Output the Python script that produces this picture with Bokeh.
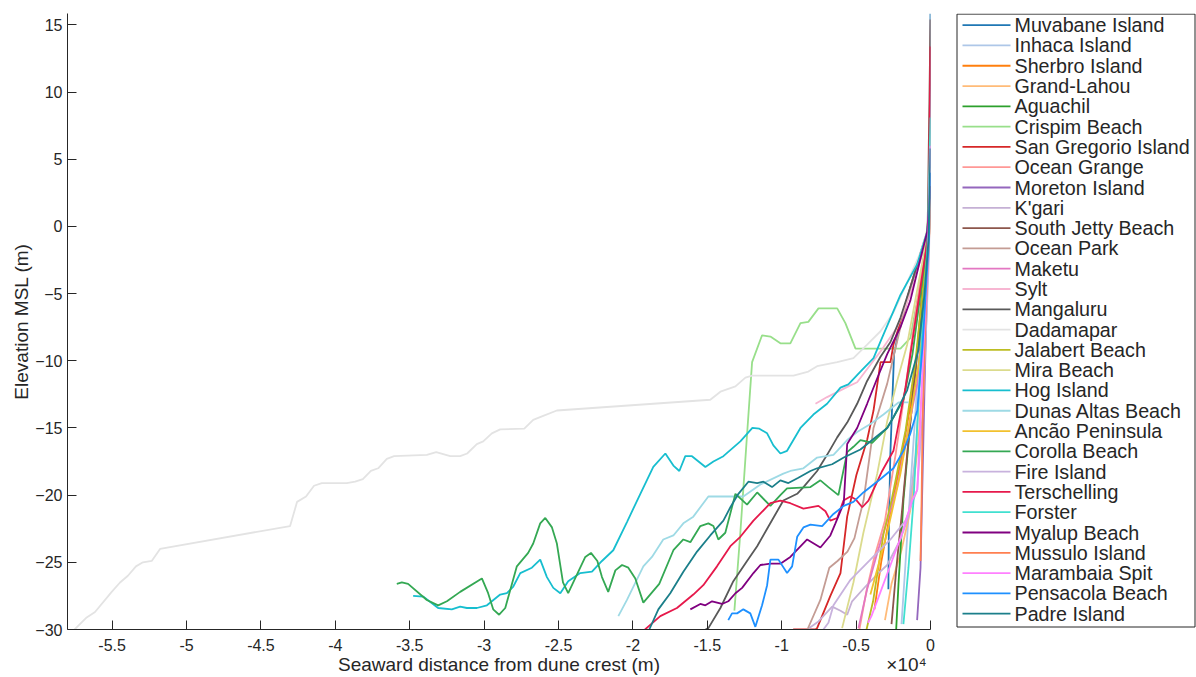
from bokeh.plotting import figure
from bokeh.models import Range1d, FixedTicker, LinearAxis, ColumnDataSource
from bokeh.core.properties import value
from bokeh.layouts import row
from bokeh.embed import file_html
from bokeh.resources import INLINE

# ---------------- data: (seaward distance m, elevation m) ----------------
NAMES = ["Muvabane Island", "Inhaca Island", "Sherbro Island", "Grand-Lahou", "Aguachil",
         "Crispim Beach", "San Gregorio Island", "Ocean Grange", "Moreton Island", "K'gari",
         "South Jetty Beach", "Ocean Park", "Maketu", "Sylt", "Mangaluru", "Dadamapar",
         "Jalabert Beach", "Mira Beach", "Hog Island", "Dunas Altas Beach", "Ancão Peninsula",
         "Corolla Beach", "Fire Island", "Terschelling", "Forster", "Myalup Beach",
         "Mussulo Island", "Marambaia Spit", "Pensacola Beach", "Padre Island"]

COLORS = ["#1f77b4", "#aec7e8", "#ff7f0e", "#ffbb78", "#2ca02c", "#98df8a", "#d62728", "#ff9896",
          "#9467bd", "#c5b0d5", "#8c564b", "#c49c94", "#e377c2", "#f7b6d2", "#595959", "#e3e3e3",
          "#bcbd22", "#dbdb8d", "#17becf", "#9edae5", "#f2c12e", "#34a853", "#c8b2dd", "#e6194b",
          "#40e0d0", "#800080", "#ff7f50", "#ff80ff", "#1e90ff", "#1b7f8a"]

MUVABANE = [(-2830, -27.0), (-2800, -22.5), (-2700, -17.0), (-2550, -12.5), (-2450, -9.5),
            (-1900, -6.5), (-1100, -4.0), (-450, -1.5), (-80, -0.2), (0, 15.85)]
INHACA = [(-1950, -29.6), (-1700, -25.4), (-1480, -21.6), (-1080, -15.0), (-670, -8.0),
          (-340, -3.0), (-100, -0.5), (0, 3.0)]
SHERBRO = [(-3770, -28.5), (-3300, -24.9), (-2720, -21.4), (-2000, -17.5), (-1300, -13.0),
           (-700, -7.5), (-300, -3.0), (-80, -0.5), (0, 2.0)]
GRAND_LAHOU = [(-3060, -29.3), (-2620, -26.6), (-1950, -24.1), (-1350, -21.1), (-810, -16.0),
               (-400, -9.0), (-140, -2.0), (0, 2.5)]
AGUACHIL = [(-2320, -30.3), (-2150, -26.6), (-1950, -22.9), (-1820, -20.4), (-1350, -14.5),
            (-810, -8.5), (-400, -3.5), (-140, -0.5), (0, 2.0)]
CRISPIM = [(-13180, -28.6), (-12780, -22.8), (-12330, -15.5), (-11990, -10.1), (-11320, -8.1),
           (-10760, -8.2), (-10090, -8.7), (-9420, -8.7), (-8740, -7.2), (-8210, -7.1),
           (-7530, -6.1), (-6270, -6.1), (-5720, -7.2), (-5040, -9.1), (-2020, -9.1),
           (-1350, -8.3), (-810, -5.0), (-340, -1.5), (0, 2.5)]
SAN_GREGORIO = [(-9300, -30.5), (-9210, -30.0), (-7730, -30.0), (-7620, -29.9), (-6730, -27.5),
                (-6050, -25.8), (-5600, -21.6), (-4980, -18.5), (-4260, -15.9), (-3830, -13.7),
                (-3360, -10.1), (-2690, -10.1), (-2490, -8.8), (-2020, -7.1), (-1350, -4.5),
                (-670, -2.0), (-200, -0.3), (0, 3.0)]
OCEAN_GRANGE = [(-4780, -30.0), (-4300, -27.1), (-3770, -24.6), (-3060, -21.9), (-2350, -17.0),
                (-1680, -12.0), (-1010, -6.5), (-470, -2.5), (-140, -0.3), (0, 2.0)]
MORETON = [(-900, -29.3), (-670, -25.4), (-570, -20.4), (-400, -12.0), (-240, -5.0),
           (-100, -1.0), (0, 4.0)]
KGARI = [(-8290, -30.0), (-7530, -29.4), (-6610, -28.3), (-6050, -28.6), (-5600, -28.9),
         (-5270, -27.9), (-4370, -26.8), (-3580, -25.9), (-2910, -25.2), (-2020, -23.3),
         (-1480, -21.6), (-1010, -17.0), (-670, -11.0), (-340, -5.0), (-140, -1.0), (0, 2.0)]
SOUTH_JETTY = [(-2620, -29.6), (-2290, -25.4), (-1950, -21.6), (-1550, -16.7), (-1010, -10.8),
               (-540, -4.5), (-200, -0.8), (0, 15.4)]
OCEAN_PARK = [(-8270, -30.0), (-7400, -27.8), (-6800, -25.4), (-6250, -24.9), (-5580, -24.2),
              (-5110, -23.2), (-4770, -21.6), (-4500, -20.4), (-3830, -15.0), (-2910, -11.7),
              (-2020, -7.5), (-1210, -4.0), (-540, -1.5), (-135, -0.2), (0, 2.0)]
MAKETU = [(-4840, -29.9), (-4260, -27.0), (-3580, -24.3), (-2910, -21.9), (-2240, -19.4),
          (-1570, -15.5), (-890, -11.7), (-470, -6.0), (-170, -1.5), (0, 3.0)]
SYLT = [(-7730, -13.2), (-6950, -12.7), (-6050, -12.2), (-5520, -11.9), (-4930, -11.6),
        (-4040, -10.3), (-3360, -9.3), (-2240, -7.5), (-1350, -5.0), (-670, -2.5),
        (-200, -0.5), (0, 2.0)]
MANGALURU = [(-15600, -30.3), (-14930, -29.9), (-14120, -28.4), (-13250, -26.4), (-12330, -24.9),
             (-11650, -23.8), (-10980, -22.5), (-9890, -20.4), (-8960, -19.9), (-8540, -19.4),
             (-7620, -18.2), (-6950, -17.0), (-6270, -15.7), (-5600, -14.6), (-4930, -13.2),
             (-4260, -11.5), (-3360, -9.7), (-2690, -8.6), (-2020, -6.8), (-1210, -4.0),
             (-540, -1.5), (-135, -0.2), (0, 2.0)]
DADAMAPAR = [(-57800, -30.3), (-56710, -29.1), (-56150, -28.7), (-55030, -27.2), (-54470, -26.5),
             (-53940, -26.0), (-53400, -25.3), (-52930, -25.0), (-52340, -24.9), (-51780, -24.0),
             (-43040, -22.3), (-42570, -20.5), (-41970, -20.1), (-41430, -19.3), (-40910, -19.1),
             (-39230, -19.1), (-38670, -19.0), (-38150, -18.8), (-37610, -18.2), (-37120, -18.0),
             (-36540, -17.3), (-36050, -17.1), (-33850, -17.0), (-33220, -16.8), (-32280, -17.1),
             (-31610, -17.1), (-31140, -16.9), (-30490, -16.2), (-30060, -16.0), (-29480, -15.4),
             (-28920, -15.1), (-27300, -15.05), (-26700, -14.4), (-26030, -14.1), (-25110, -13.7),
             (-14800, -12.9), (-14120, -12.3), (-13110, -11.9), (-12440, -11.25), (-11990, -11.1),
             (-9210, -11.1), (-8210, -10.8), (-7620, -10.4), (-6270, -10.1), (-5180, -9.8),
             (-4260, -8.8), (-3360, -7.8), (-2490, -6.4), (-1500, -4.0), (-700, -2.0),
             (-250, -0.4), (0, 1.5)]
JALABERT = [(-4300, -30.0), (-3860, -27.9), (-3160, -22.9), (-2620, -20.4), (-1680, -15.2),
            (-1010, -10.0), (-540, -5.0), (-200, -1.0), (0, 2.0)]
MIRA = [(-5940, -29.9), (-5180, -26.5), (-4510, -22.8), (-3580, -18.4), (-2910, -14.5),
        (-2240, -11.5), (-1570, -8.8), (-940, -5.0), (-400, -1.8), (0, 2.0)]
HOG = [(-34770, -27.5), (-34100, -27.55), (-33090, -28.4), (-32170, -28.5), (-31610, -28.3),
       (-31160, -28.4), (-30490, -28.4), (-29810, -28.2), (-28920, -27.4), (-28470, -27.3),
       (-28040, -26.8), (-27570, -25.8), (-26790, -25.4), (-26230, -24.8), (-25780, -26.1),
       (-25350, -26.9), (-24880, -27.3), (-24350, -26.4), (-23540, -25.8), (-22750, -25.7),
       (-22080, -24.9), (-21320, -24.1), (-20400, -22.0), (-19500, -19.9), (-18630, -17.9),
       (-17820, -16.9), (-17280, -17.8), (-16880, -18.2), (-16480, -17.1), (-16030, -17.1),
       (-15130, -17.9), (-14590, -17.5), (-13920, -17.1), (-12780, -16.0), (-11970, -15.0),
       (-11500, -15.05), (-10980, -15.4), (-10560, -16.3), (-10090, -16.9), (-9640, -16.7),
       (-8740, -15.0), (-7870, -14.0), (-6950, -13.2), (-6050, -12.0), (-5520, -11.75),
       (-4710, -10.8), (-3830, -9.8), (-3300, -8.4), (-2020, -5.1), (-890, -2.8),
       (-220, -0.4), (0, 2.5)]
DUNAS_ALTAS = [(-20980, -29.0), (-20400, -27.8), (-19300, -25.3), (-18720, -24.6), (-17960, -23.3),
               (-17280, -23.0), (-16610, -22.1), (-15940, -21.6), (-14930, -20.1), (-12580, -20.1),
               (-11430, -19.2), (-9890, -18.4), (-9420, -18.2), (-8540, -18.0), (-7620, -17.2),
               (-6520, -17.0), (-5600, -15.9), (-4930, -15.3), (-4040, -14.7), (-3160, -14.0),
               (-2490, -13.4), (-2150, -13.1), (-1480, -13.1)]
ANCAO = [(-4040, -27.4), (-2910, -22.8), (-2020, -18.4), (-1350, -14.2), (-670, -9.3),
         (-340, -4.5), (-100, -1.0), (0, 2.0)]
COROLLA = [(-35870, -26.6), (-35530, -26.5), (-35110, -26.6), (-33850, -27.8), (-33090, -28.2),
           (-32500, -27.9), (-31610, -27.2), (-30150, -26.2), (-29730, -27.3), (-29390, -28.5),
           (-28990, -28.9), (-28580, -28.4), (-27800, -25.3), (-27040, -24.3), (-26700, -23.6),
           (-26230, -22.1), (-25890, -21.7), (-25440, -22.4), (-25110, -23.6), (-24700, -26.5),
           (-24350, -27.3), (-23200, -24.6), (-22820, -24.3), (-22390, -24.9), (-22080, -26.1),
           (-21660, -27.2), (-21180, -25.6), (-20730, -25.2), (-20310, -25.4), (-19840, -26.2),
           (-19300, -28.0), (-18230, -26.6), (-17280, -24.1), (-16610, -23.3), (-16140, -23.5),
           (-15470, -22.3), (-14930, -22.1), (-14590, -22.3), (-14260, -23.3), (-13790, -22.8),
           (-13110, -19.9), (-12330, -20.7), (-11650, -19.8), (-10760, -20.8), (-10090, -20.0),
           (-9640, -19.5), (-8070, -19.4), (-7400, -18.9), (-6860, -19.4), (-6190, -20.0),
           (-5600, -16.8), (-5180, -16.4), (-4710, -15.9), (-3920, -16.1), (-2910, -15.0),
           (-2490, -14.2), (-1820, -12.9), (-1210, -9.5), (-670, -5.0), (-270, -1.5), (0, 3.0)]
FIRE = [(-7200, -30.0), (-6860, -29.5), (-6520, -28.2), (-5380, -26.3), (-4040, -24.8),
        (-2690, -23.3), (-1680, -21.9), (-890, -19.6), (-540, -14.0), (-270, -7.0),
        (-100, -2.0), (0, 2.0)]
TERSCHELLING = [(-19500, -30.3), (-18160, -29.0), (-17040, -28.4), (-15940, -27.4), (-15270, -26.7),
                (-14350, -25.3), (-13450, -23.8), (-12780, -23.1), (-11900, -21.9), (-10760, -20.6),
                (-10090, -20.4), (-9420, -20.6), (-8540, -21.0), (-7530, -20.8), (-7060, -21.2),
                (-6730, -21.9), (-6270, -21.7), (-5850, -20.4), (-5380, -20.1), (-5040, -20.3),
                (-4590, -20.9), (-4170, -20.4), (-3250, -18.2), (-2490, -16.7), (-1680, -12.0),
                (-1010, -7.0), (-400, -2.5), (-135, -0.5), (0, 13.4)]
FORSTER = [(-1820, -29.6), (-1480, -25.4), (-1140, -20.4), (-810, -13.0), (-470, -6.0),
           (-200, -1.5), (0, 8.1)]
MYALUP = [(-16140, -28.5), (-15470, -28.1), (-15130, -28.2), (-14680, -27.9), (-14010, -28.1),
          (-13590, -27.9), (-13110, -27.3), (-12660, -26.9), (-11900, -25.8), (-11430, -25.2),
          (-10760, -25.1), (-10090, -25.1), (-9420, -24.6), (-8290, -23.3), (-7400, -23.9),
          (-6730, -23.0), (-6390, -22.1), (-5830, -20.6), (-5600, -16.2), (-4930, -15.0),
          (-4260, -13.2), (-3580, -11.3), (-2910, -9.5), (-2020, -7.5), (-1350, -5.5),
          (-810, -3.0), (-220, -0.4), (0, 3.0)]
MUSSULO = [(-670, -24.9), (-600, -20.4), (-540, -15.0), (-370, -8.0), (-200, -3.0),
           (-70, -0.5), (0, 3.0)]
MARAMBAIA = [(-4200, -29.5), (-3970, -29.0), (-3360, -27.2), (-2690, -25.2), (-2020, -23.2),
             (-1240, -20.4), (-890, -19.6), (-740, -16.0), (-470, -9.0), (-200, -3.0), (0, 6.0)]
PENSACOLA = [(-13590, -29.3), (-13340, -28.8), (-13000, -28.8), (-12580, -28.5), (-12110, -28.8),
             (-11770, -29.8), (-11320, -28.2), (-10980, -26.7), (-10760, -24.8), (-10220, -24.8),
             (-9640, -25.8), (-9300, -25.3), (-8960, -23.1), (-8540, -22.4), (-8070, -22.2),
             (-7280, -22.3), (-6520, -21.4), (-5830, -20.8), (-5180, -20.5), (-4510, -19.8),
             (-3360, -18.8), (-2490, -18.0), (-1820, -16.7), (-1350, -15.4), (-890, -13.7),
             (-540, -9.0), (-270, -4.0), (-100, -1.0), (0, 4.0)]
PADRE = [(-19100, -30.3), (-18900, -30.0), (-18290, -28.5), (-17490, -27.3), (-16610, -25.7),
         (-15690, -24.2), (-14800, -23.0), (-13920, -21.9), (-13450, -20.9), (-12910, -19.9),
         (-12240, -19.0), (-11650, -19.1), (-11230, -19.0), (-10650, -19.4), (-10090, -18.9),
         (-9550, -19.1), (-8880, -18.7), (-8070, -18.2), (-7620, -18.0), (-6610, -17.7),
         (-5830, -17.2), (-4710, -16.6), (-3920, -15.9), (-2910, -15.0), (-2490, -14.2),
         (-1570, -12.2), (-810, -9.2), (-400, -5.0), (-135, -1.0), (0, 5.8)]

SERIES = [MUVABANE, INHACA, SHERBRO, GRAND_LAHOU, AGUACHIL, CRISPIM, SAN_GREGORIO, OCEAN_GRANGE,
          MORETON, KGARI, SOUTH_JETTY, OCEAN_PARK, MAKETU, SYLT, MANGALURU, DADAMAPAR, JALABERT,
          MIRA, HOG, DUNAS_ALTAS, ANCAO, COROLLA, FIRE, TERSCHELLING, FORSTER, MYALUP, MUSSULO,
          MARAMBAIA, PENSACOLA, PADRE]

X_TICKS = [-55000, -50000, -45000, -40000, -35000, -30000, -25000, -20000, -15000, -10000, -5000, 0]
X_TICK_LABELS = ["-5.5", "-5", "-4.5", "-4", "-3.5", "-3", "-2.5", "-2", "-1.5", "-1", "-0.5", "0"]
Y_TICKS = [-30, -25, -20, -15, -10, -5, 0, 5, 10, 15]
X_LABEL = "Seaward distance from dune crest (m)"
X_EXPONENT = "×10⁴"
Y_LABEL = "Elevation MSL (m)"

FONT = "Liberation Sans"
TXT = "#262626"
LW = 1.8
TOP_B, BOT_B = 13, 46

# ---------------- main plot ----------------
p = figure(width=935, height=677, x_range=Range1d(-58000, 0), y_range=Range1d(-30, 15.85),
           output_backend="svg", toolbar_location=None,
           min_border_left=67, min_border_right=5, min_border_top=TOP_B, min_border_bottom=BOT_B)
p.outline_line_color = None
p.grid.visible = False
p.background_fill_color = "white"
p.border_fill_color = "white"

for pts, col in zip(SERIES, COLORS):
    p.line([a for a, b in pts], [b for a, b in pts], line_color=col, line_width=LW)

p.xaxis.ticker = FixedTicker(ticks=X_TICKS)
p.xaxis.major_label_overrides = {t: l for t, l in zip(X_TICKS, X_TICK_LABELS)}
p.yaxis.ticker = FixedTicker(ticks=Y_TICKS)
for ax in (p.xaxis, p.yaxis):
    ax.axis_line_color = TXT
    ax.axis_line_width = 1
    ax.major_tick_line_color = TXT
    ax.major_tick_in = 9
    ax.major_tick_out = 0
    ax.minor_tick_line_color = None
    ax.major_label_text_font = FONT
    ax.major_label_text_font_size = "16px"
    ax.major_label_text_color = TXT
    ax.major_label_text_line_height = 1.0
    ax.axis_label_text_font = FONT
    ax.axis_label_text_font_size = "19px"
    ax.axis_label_text_font_style = "normal"
    ax.axis_label_text_color = TXT
p.yaxis.axis_label = Y_LABEL
p.yaxis.major_label_standoff = 5
p.yaxis.axis_label_standoff = 0
p.xaxis.major_label_standoff = 9

# second (label-only) axis below: axis title centred and the x10^4 exponent at the right
xl_center = (p.x_range.start + p.x_range.end) / 2
xl_exp = -1610
ax2 = LinearAxis(ticker=FixedTicker(ticks=[xl_center, xl_exp]),
                 major_label_overrides={xl_center: X_LABEL, xl_exp: X_EXPONENT},
                 axis_line_color=None, major_tick_line_color=None, minor_tick_line_color=None,
                 major_tick_in=0, major_tick_out=0, major_label_standoff=0,
                 major_label_text_font=FONT, major_label_text_font_size="19px",
                 major_label_text_color=TXT, major_label_text_line_height=1.0)
p.add_layout(ax2, "below")

# ---------------- legend panel (its frame mirrors the main frame; y in screen pixels) ----------------
pl = figure(width=261, height=677, x_range=Range1d(935, 1196),
            y_range=Range1d(677 - BOT_B, TOP_B),
            x_axis_location=None, y_axis_location=None, output_backend="svg",
            toolbar_location=None, min_border_left=0, min_border_right=0,
            min_border_top=TOP_B, min_border_bottom=BOT_B)
pl.outline_line_color = None
pl.grid.visible = False
pl.background_fill_color = "white"
pl.border_fill_color = "white"

LEG_TOP, LEG_PITCH = 24.7, 20.36
leg_y = [LEG_TOP + LEG_PITCH * i for i in range(len(NAMES))]
leg_src = ColumnDataSource(dict(y=leg_y, name=NAMES, color=COLORS))
pl.quad(left=956.5, right=1194.5, top=13.6, bottom=628.5, fill_color="white",
        line_color=TXT, line_width=1)
pl.segment(x0=962, x1=1010, y0="y", y1="y", line_color="color", line_width=LW, source=leg_src)
pl.text(x=1014, y="y", text="name", source=leg_src, text_baseline="middle", text_align="left",
        text_font=value(FONT), text_font_size="19.7px", text_color=TXT)

layout = row(p, pl)
open("out.html", "w").write(file_html(layout, INLINE))
